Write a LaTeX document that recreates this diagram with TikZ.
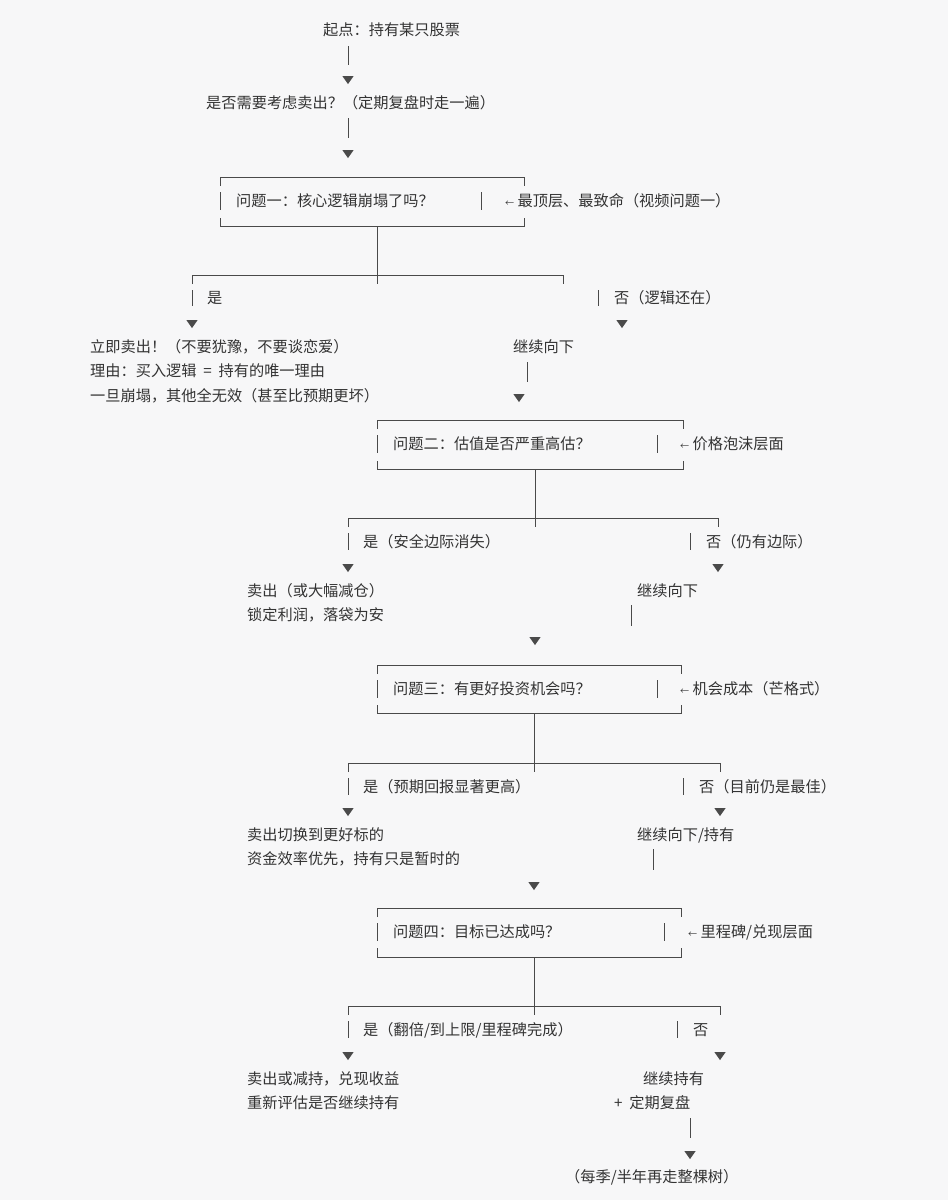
\documentclass[tikz,border=0pt]{standalone}
\usepackage{fontspec}
\setmainfont{Noto Sans CJK SC}
\usetikzlibrary{
  shapes.geometric, % for the small triangle tips
}
\definecolor{ink}{HTML}{333333}
\definecolor{rule}{HTML}{4A4A4A}
\definecolor{paper}{HTML}{F7F7F8}
\tikzset{
  txt/.style={ % plain text rows
    anchor=west,inner sep=0pt,text=ink,
    font=\fontsize{15.2}{24.4}\selectfont,
  },
  wire/.style={ % box-drawing lines
    draw=rule,line width=1pt,
  },
  tip/.style={ % the small filled triangles
    fill=rule,isosceles triangle,shape border rotate=-90,
    isosceles triangle apex angle=70,inner sep=0pt,
    minimum width=10pt,minimum height=8pt,
  },
}
\begin{document}
\begin{tikzpicture}[x=1pt,y=-1pt]
\fill[paper] (0,0) rectangle (948,1200);
\useasboundingbox (0,0) rectangle (948,1200);

% start
\node[txt] (start) at (323,30) {起点：持有某只股票};
\draw[wire] (348,46) -- (348,65);
\node[tip] (t0) at (348,79) {};
\node[txt] (review) at (206,103) {是否需要考虑卖出？（定期复盘时走一遍）};
\draw[wire] (348,118) -- (348,138);
\node[tip] (t1) at (348,153) {};

% question one
\draw[wire] (220,186) |- (524,177) -- (524,186);
\draw[wire] (220,192) -- (220,210) (481,192) -- (481,210);
\draw[wire] (220,218) |- (524,226) -- (524,218);
\node[txt] (q1) at (236,201) {问题一：核心逻辑崩塌了吗？};
\node[txt] (n1) at (505,201) {{\small ←}\ 最顶层、最致命（视频问题一）};
\draw[wire] (377,226) -- (377,284);
\draw[wire] (192,284) |- (563,275) -- (563,284);
\draw[wire] (192,290) -- (192,306) (598,290) -- (598,306);
\node[txt] (y1) at (207,298) {是};
\node[txt] (no1) at (614,298) {否（逻辑还在）};
\node[tip] (t2) at (192,323) {};
\node[tip] (t3) at (622,323) {};
\node[txt,align=left] (sell1) at (90,371) {立即卖出！（不要犹豫，不要谈恋爱）\\理由：买入逻辑 \ = \ 持有的唯一理由\\一旦崩塌，其他全无效（甚至比预期更坏）};
\node[txt] (go1) at (513,347) {继续向下};
\draw[wire] (527,362) -- (527,382);
\node[tip] (t4) at (519,397) {};

% question two
\draw[wire] (377,429) |- (683,420) -- (683,429);
\draw[wire] (377,435) -- (377,453) (657,435) -- (657,453);
\draw[wire] (377,461) |- (683,469) -- (683,461);
\node[txt] (q2) at (393,444) {问题二：估值是否严重高估？};
\node[txt] (n2) at (680,444) {{\small ←}\ 价格泡沫层面};
\draw[wire] (535,469) -- (535,527);
\draw[wire] (348,527) |- (718,518) -- (718,527);
\draw[wire] (348,533) -- (348,550) (690,533) -- (690,550);
\node[txt] (y2) at (363,542) {是（安全边际消失）};
\node[txt] (no2) at (706,542) {否（仍有边际）};
\node[tip] (t5) at (348,567) {};
\node[tip] (t6) at (718,567) {};
\node[txt,align=left] (sell2) at (247,603) {卖出（或大幅减仓）\\锁定利润，落袋为安};
\node[txt] (go2) at (637,591) {继续向下};
\draw[wire] (631,605) -- (631,626);
\node[tip] (t7) at (535,640) {};

% question three
\draw[wire] (377,674) |- (681,665) -- (681,674);
\draw[wire] (377,680) -- (377,698) (657,680) -- (657,698);
\draw[wire] (377,705) |- (681,713) -- (681,705);
\node[txt] (q3) at (393,689) {问题三：有更好投资机会吗？};
\node[txt] (n3) at (680,689) {{\small ←}\ 机会成本（芒格式）};
\draw[wire] (534,713) -- (534,772);
\draw[wire] (348,772) |- (720,763) -- (720,772);
\draw[wire] (348,778) -- (348,795) (683,778) -- (683,795);
\node[txt] (y3) at (363,787) {是（预期回报显著更高）};
\node[txt] (no3) at (699,787) {否（目前仍是最佳）};
\node[tip] (t8) at (348,811) {};
\node[tip] (t9) at (720,811) {};
\node[txt,align=left] (sell3) at (247,847) {卖出切换到更好标的\\资金效率优先，持有只是暂时的};
\node[txt] (go3) at (637,835) {继续向下/持有};
\draw[wire] (653,849) -- (653,870);
\node[tip] (t10) at (534,885) {};

% question four
\draw[wire] (377,917) |- (681,908) -- (681,917);
\draw[wire] (377,923) -- (377,941) (664,923) -- (664,941);
\draw[wire] (377,948) |- (681,957) -- (681,948);
\node[txt] (q4) at (393,932) {问题四：目标已达成吗？};
\node[txt] (n4) at (688,932) {{\small ←}\ 里程碑/兑现层面};
\draw[wire] (534,957) -- (534,1015);
\draw[wire] (348,1015) |- (720,1006) -- (720,1015);
\draw[wire] (348,1021) -- (348,1038) (677,1021) -- (677,1038);
\node[txt] (y4) at (363,1030) {是（翻倍/到上限/里程碑完成）};
\node[txt] (no4) at (693,1030) {否};
\node[tip] (t11) at (348,1055) {};
\node[tip] (t12) at (720,1055) {};
\node[txt,align=left] (sell4) at (247,1091) {卖出或减持，兑现收益\\重新评估是否继续持有};
\node[txt] (keep) at (643,1079) {继续持有};
\node[txt] (plus) at (614,1103) {+\ \ 定期复盘};
\draw[wire] (690,1118) -- (690,1138);
\node[tip] (t13) at (690,1154) {};
\node[txt] (loop) at (565,1177) {（每季/半年再走整棵树）};
\end{tikzpicture}
\end{document}
